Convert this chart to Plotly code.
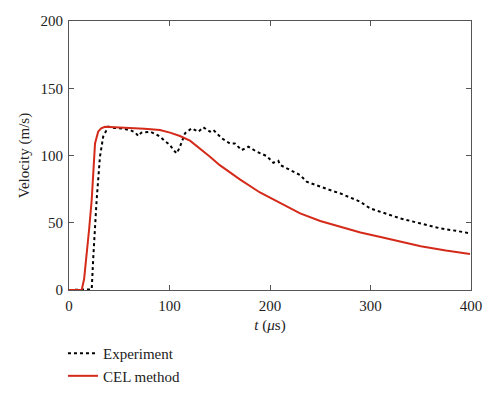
import plotly.graph_objects as go

# Experiment (black dotted)
exp_t = [0, 10, 20, 22.6, 24.2, 27.5, 30.8, 34, 39, 45, 54, 62, 66, 69, 72, 80.6, 86, 90.5, 95, 100.5, 104, 107.2, 110.4,
         115.4, 122, 128.7, 133.6, 140.3, 143.6, 152, 160, 165, 171.8, 178.4, 186.8, 190, 196.7, 203.3, 208.3,
         210, 220, 229.9, 236.5, 249.8, 259.7, 269.6, 289.6, 299.5, 309.5, 329.4, 349, 369, 385, 399]
exp_v = [0, 0, 0, 0.5, 24.8, 67, 99, 114, 121.4, 120.5, 120, 118.5, 117, 114.5, 117, 117.7, 116, 114, 111, 107.8, 104, 101.6, 106.5,
         116.5, 120.2, 117.7, 121, 117.7, 119, 112.8, 109, 109, 104, 106.5, 102.8, 101.6, 99.6, 94.6, 96,
         93, 89.2, 85.5, 80.5, 76.8, 74.3, 71.9, 65.7, 60.7, 58.2, 53.3, 49.6, 45.9, 44, 42.2]

# CEL method (red solid)
cel_t = [0, 10, 12.6, 15, 17.6, 20, 22.6, 24.5, 25.9, 29, 32, 35.8, 45, 60, 75, 90.5, 100.5, 110.4, 120.4, 130.3, 140.3,
         150, 160, 170, 190, 210, 230, 250, 270, 290, 310, 330, 350, 375, 399]
cel_v = [0, 0, 0, 8, 24.8, 45, 67, 92, 109, 117.7, 120.2, 121.4, 121.2, 120.5, 119.8, 119, 117, 114.5, 111, 105.3, 99.1,
         92.8, 87.5, 82.2, 72.5, 64.5, 57, 51.3, 46.8, 42.8, 39.4, 36, 32.5, 29.3, 26.8]

x_ticks = [0, 100, 200, 300, 400]
y_ticks = [0, 50, 100, 150, 200]

font_family = "Liberation Serif, Times New Roman, serif"

fig = go.Figure()
fig.add_trace(go.Scatter(x=exp_t, y=exp_v, mode="lines", name="Experiment",
                         line=dict(color="black", width=2, dash="dot")))
fig.add_trace(go.Scatter(x=cel_t, y=cel_v, mode="lines", name="CEL method",
                         line=dict(color="#d42a1a", width=2)))

axis_common = dict(showgrid=False, zeroline=False, showline=True, linecolor="#555555", linewidth=1,
                   mirror="ticks", ticks="inside", ticklen=5, tickcolor="#555555", automargin=False,
                   tickfont=dict(family=font_family, size=15, color="#222222"))

fig.update_layout(
    width=492, height=390,
    margin=dict(l=61, r=29, t=13, b=108, autoexpand=False),
    plot_bgcolor="white", paper_bgcolor="white",
    font=dict(family=font_family, size=15, color="#222222"),
    xaxis=dict(range=[0, 400], tickvals=x_ticks, ticklabelstandoff=2,
               title=dict(text="<i>t</i> (<i>μ</i>s)", standoff=6,
                          font=dict(family=font_family, size=15)), **axis_common),
    yaxis=dict(range=[0, 200], tickvals=y_ticks, ticklabelstandoff=2,
               title=dict(text="Velocity (m/s)", standoff=7,
                          font=dict(family=font_family, size=15)), **axis_common),
    legend=dict(x=-0.015, y=-0.175, xanchor="left", yanchor="top", orientation="v",
                font=dict(family=font_family, size=15, color="#222222"),
                bgcolor="rgba(0,0,0,0)", itemwidth=30, tracegroupgap=0),
    showlegend=True,
)

fig.write_html("out.html")
